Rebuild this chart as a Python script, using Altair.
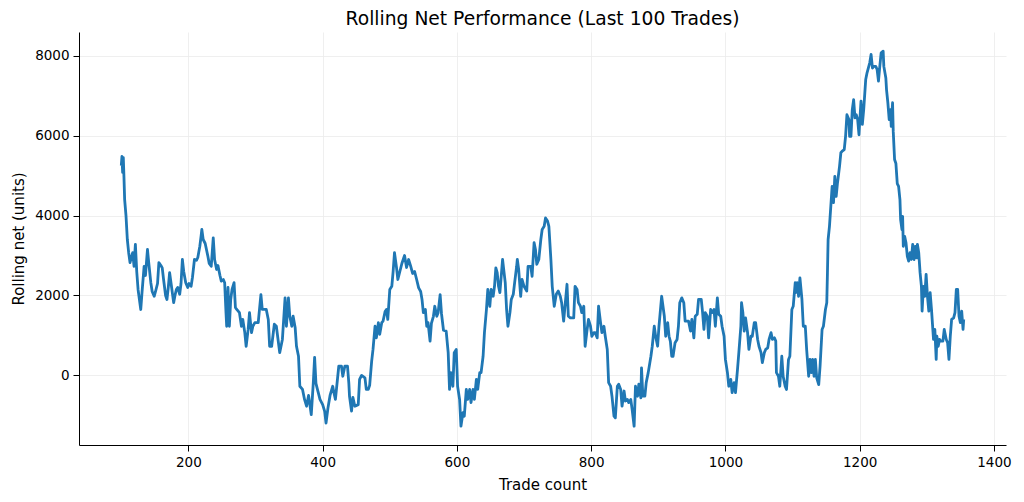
import altair as alt
import pandas as pd

trades = [
    100, 101, 102, 103, 104, 105, 107, 109, 111, 113, 115, 117, 119, 121, 123, 125, 127, 129, 131, 134,
    136, 139, 141, 144, 146, 149, 151, 154, 156, 159, 161, 163, 166, 168, 170, 172, 175, 178, 180, 182,
    184, 187, 189, 191, 193, 196, 199, 201, 204, 206, 209, 212, 214, 217, 219, 220, 222, 225, 229, 231,
    234, 237, 239, 242, 244, 247, 249, 252, 254, 256,
    257, 259, 261, 263, 265, 268, 270, 272, 276, 279, 281, 284, 286, 289, 291, 294, 296, 299, 304, 308,
    310, 313, 316, 319, 321, 324, 328, 331, 336, 340, 344, 346, 349, 351, 354, 356, 359, 361, 364,
    366, 370, 373, 376, 379, 383, 386, 388, 390, 393, 396, 400, 403, 405, 408, 411, 415, 417, 419, 421,
    424, 428, 430, 433, 437, 439, 440, 443, 445, 448, 453, 455, 458, 463, 465, 468, 470, 473, 475, 478,
    480, 483, 485, 488, 490, 493, 495, 497, 499, 500, 503, 505, 507, 510, 512, 515, 518, 522, 525, 528,
    531, 534, 537, 540, 543, 546, 548, 550, 553, 555, 557, 560, 562, 565, 567, 570, 572, 575, 577, 580,
    584, 587, 589,
    591, 594, 596, 599, 601, 604, 606, 609, 611, 614, 616, 619, 621, 624, 626, 629, 631, 634, 636, 639,
    641, 644, 646, 649, 651, 654, 656, 658, 660, 662, 664, 666, 668, 670, 672, 674, 676, 679, 681, 684,
    686, 689, 690, 692, 695, 697, 700, 704, 706, 710, 712, 715, 717, 719, 722, 725, 727, 730, 732, 735,
    737, 740, 742, 745, 748, 751,
    754, 756, 759, 761, 764, 766, 769, 774, 776, 779, 781, 784, 786, 789, 791, 794, 796, 799, 801, 804,
    806, 809, 811, 814, 816, 819, 821, 824, 826, 829, 831, 834, 836, 839, 841, 844, 846, 849, 851, 854,
    856, 859, 861, 864, 866, 869, 871, 874, 875, 877, 880, 882, 885, 889, 891, 894, 896, 899, 901, 905,
    909, 911, 914, 916,
    918, 920, 922, 925, 928, 930, 932, 935, 938, 940, 945, 948, 950, 953, 955, 958, 960, 964, 966, 968,
    970, 973, 975, 978, 980, 983, 985, 988, 990, 993, 995, 998, 1000, 1003, 1005, 1008, 1010, 1013, 1015, 1018,
    1020, 1023, 1024, 1026, 1028, 1030, 1033, 1035, 1038, 1040, 1043, 1045, 1048, 1050, 1053, 1055, 1058, 1060, 1063, 1065,
    1068, 1070, 1073, 1075,
    1076, 1079, 1081, 1084, 1086, 1089, 1091, 1094, 1096, 1099, 1101, 1104, 1105, 1107, 1109, 1111, 1114, 1116, 1119, 1121,
    1124, 1126, 1128, 1130, 1132, 1134, 1136, 1139, 1141, 1144, 1146, 1149, 1151,
    1152, 1153, 1155, 1157, 1159, 1161, 1163, 1165, 1167, 1170, 1172, 1174, 1177, 1179, 1181, 1184, 1185, 1187, 1189, 1191,
    1193, 1195, 1197, 1199, 1200, 1202, 1204, 1206, 1208, 1209, 1211, 1213, 1215, 1217, 1219, 1221, 1224, 1226, 1228, 1230,
    1232, 1235, 1236, 1239, 1240, 1242, 1244, 1246, 1247, 1249, 1250, 1252, 1254, 1256, 1258, 1260,
    1261, 1263, 1264, 1265, 1267, 1269, 1271, 1273, 1275, 1277, 1279, 1281, 1283, 1285, 1286, 1288, 1290, 1292, 1293, 1295,
    1297, 1299, 1301, 1303, 1305, 1307, 1309, 1310, 1312, 1314, 1315, 1317, 1319, 1321, 1324, 1326, 1329, 1331, 1333, 1335,
    1337, 1340, 1342, 1344, 1346, 1348, 1350, 1352, 1354, 1355,
]

rolling_net = [
    5250, 5480, 5080, 5450, 4950, 4400, 4000, 3400, 3070, 2820, 2950, 3070, 2730, 3280, 2600, 2150, 1900, 1650, 2100, 2730,
    2500, 3150, 2800, 2320, 2100, 1980, 2100, 2300, 2820, 2750, 2690, 2400, 2000, 1900, 2200, 2570, 2200, 1820, 2000, 2150,
    2200, 2030, 2300, 2900, 2600, 2320, 2200, 2300, 2230, 2450, 2900, 2880, 2950, 3230, 3500, 3650, 3400, 3300, 2980, 2800,
    2730, 3440, 2900, 2650, 2750, 2500, 2360, 2400, 2320, 1570,
    1230, 2200, 1230, 1900, 2150, 2320, 1700, 1650, 1570, 1230, 1400, 1070, 730, 1150, 1570, 1070, 1230, 1320, 1320, 2020,
    1650, 1650, 1650, 1400, 730, 730, 1280, 1230, 570, 900, 1940, 1230, 1940, 1480, 1230, 1480, 1200, 730, 480,
    -270, -350, -600, -770, -500, -980, -200, 450, -200, -400, -600, -730, -900, -1190, -800, -500, -270, -450, -600, -270,
    230, 230, -20, 230, 230, -200, -520, -890, -550, -770, -730, -100, 0, -60, -350, -350, -250, 360, 650, 1230,
    940, 1320, 1030, 1320, 1360, 1600, 1650, 1400, 1900, 2150, 2230, 2600, 3070, 2700, 2400, 2600, 2800, 3000, 2700, 2900,
    2740, 2550, 2600, 2400, 2190, 2100, 1900, 1570, 1650, 1230, 1320, 860, 1300, 1480, 1730, 1480, 1570, 2020, 1550, 1130,
    1110, 570, -350,
    70, -270, 570, 650, -270, -600, -1270, -930, -1020, -350, -600, -350, -680, -350, -600, -100, -350, 70, 70, 480,
    1070, 1650, 2150, 1730, 2150, 1980, 2230, 2690, 2570, 2230, 2070, 2480, 2900, 2610, 2320, 1650, 1230, 1570, 1900, 2030,
    2320, 2730, 2900, 2650, 1980, 2400, 2230, 2110, 2730, 2730, 2480, 3320, 3150, 2780, 2900, 3400, 3650, 3730, 3940, 3860,
    3730, 2900, 2230, 1730, 2030, 2110,
    1980, 1820, 1360, 1730, 2280, 1480, 1440, 1440, 2230, 2150, 1820, 1730, 1570, 1730, 730, 1150, 1400, 1230, 980, 1070,
    1070, 940, 1730, 1320, 1070, 1230, 980, 650, -180, -270, -520, -1020, -1060, -270, -220, -350, -770, -390, -640, -600,
    -680, -600, -850, -1270, -270, -520, -220, -560, 190, -520, -520, -180, 70, 480, 730, 1230, 980, 730, 1230, 1980,
    1480, 980, 1320, 980,
    850, 480, 480, 820, 900, 1230, 1820, 1940, 1820, 1360, 1360, 1110, 1400, 940, 1480, 1530, 1900, 1900, 1570, 1150,
    1570, 1480, 940, 1650, 1570, 1650, 1230, 1940, 1530, 1480, 1230, 980, 400, 70, -270, -100, -430, -180, -430, 150,
    570, 1230, 1820, 1570, 1110, 1440, 1070, 650, 980, 980, 1320, 1320, 900, 730, 570, 320, 570, 650, 690, 900,
    1070, 900, 940, 860,
    70, -20, -270, 480, -20, -270, -350, 400, 480, 1650, 1730, 2320, 2070, 2320, 1980, 2440, 1900, 1230, 1230, 650,
    -20, 400, 70, 400, -20, 400, -60, -230, 230, 1150, 1230, 1650, 1820,
    2570, 3400, 3730, 4230, 4730, 4320, 4980, 4480, 4820, 5230, 5570, 5610, 5650, 5980, 6520, 6400, 5980, 5980, 6650, 6900,
    6440, 6520, 6400, 6020, 6320, 6860, 6280, 6650, 7150, 7400, 7570, 7690, 7820, 8030, 7690, 7730, 7730, 7650, 7360, 7730,
    8070, 8110, 7730, 7440, 7150, 6820, 6400, 6650, 6230, 6820, 6110, 5400, 5300, 4800, 4730, 4400,
    3900, 3650, 3980, 3230, 3480, 3320, 2980, 2860, 3070, 2900, 3280, 2900, 3230, 2940, 3280, 3070, 2570, 2230, 1610, 2230,
    1980, 2530, 1980, 1610, 2070, 1650, 1150, 900, 1150, 400, 980, 730, 900, 860, 860, 1150, 900, 820, 400, 980,
    1400, 1440, 1570, 2150, 2150, 1480, 1320, 1610, 1150, 1400,
]

x_ticks = [200, 400, 600, 800, 1000, 1200, 1400]
y_ticks = [0, 2000, 4000, 6000, 8000]

df = pd.DataFrame({"trade": trades, "net": rolling_net})

FONT = "DejaVu Sans"

chart = (
    alt.Chart(df)
    .mark_line(color="#1f77b4", strokeWidth=2.8, strokeJoin="round")
    .encode(
        x=alt.X(
            "trade:Q",
            title="Trade count",
            scale=alt.Scale(domain=[37, 1418], nice=False, zero=False),
            axis=alt.Axis(values=x_ticks, format="d", titlePadding=9),
        ),
        y=alt.Y(
            "net:Q",
            title="Rolling net (units)",
            scale=alt.Scale(domain=[-1740, 8590], nice=False, zero=False),
            axis=alt.Axis(values=y_ticks, format="d", titlePadding=8),
        ),
    )
    .properties(
        width=927,
        height=413,
        title=alt.TitleParams(
            "Rolling Net Performance (Last 100 Trades)",
            font=FONT,
            fontSize=18.7,
            fontWeight="normal",
            color="black",
            anchor="middle",
            frame="group",
            offset=3,
        ),
        autosize=alt.AutoSizeParams(type="none"),
        padding={"left": 71, "top": 24, "right": 10, "bottom": 50},
    )
    .configure_view(stroke=None)
    .configure_axis(
        labelFont=FONT,
        titleFont=FONT,
        labelFontSize=13.5,
        titleFontSize=15,
        titleFontWeight="normal",
        labelColor="black",
        titleColor="black",
        domainColor="black",
        domainWidth=1,
        tickColor="black",
        tickSize=6,
        tickWidth=1,
        labelPadding=4,
        gridColor="#ebebeb",
        gridWidth=0.8,
    )
)

chart.save("out.html", embed_options={"renderer": "svg", "actions": False})
